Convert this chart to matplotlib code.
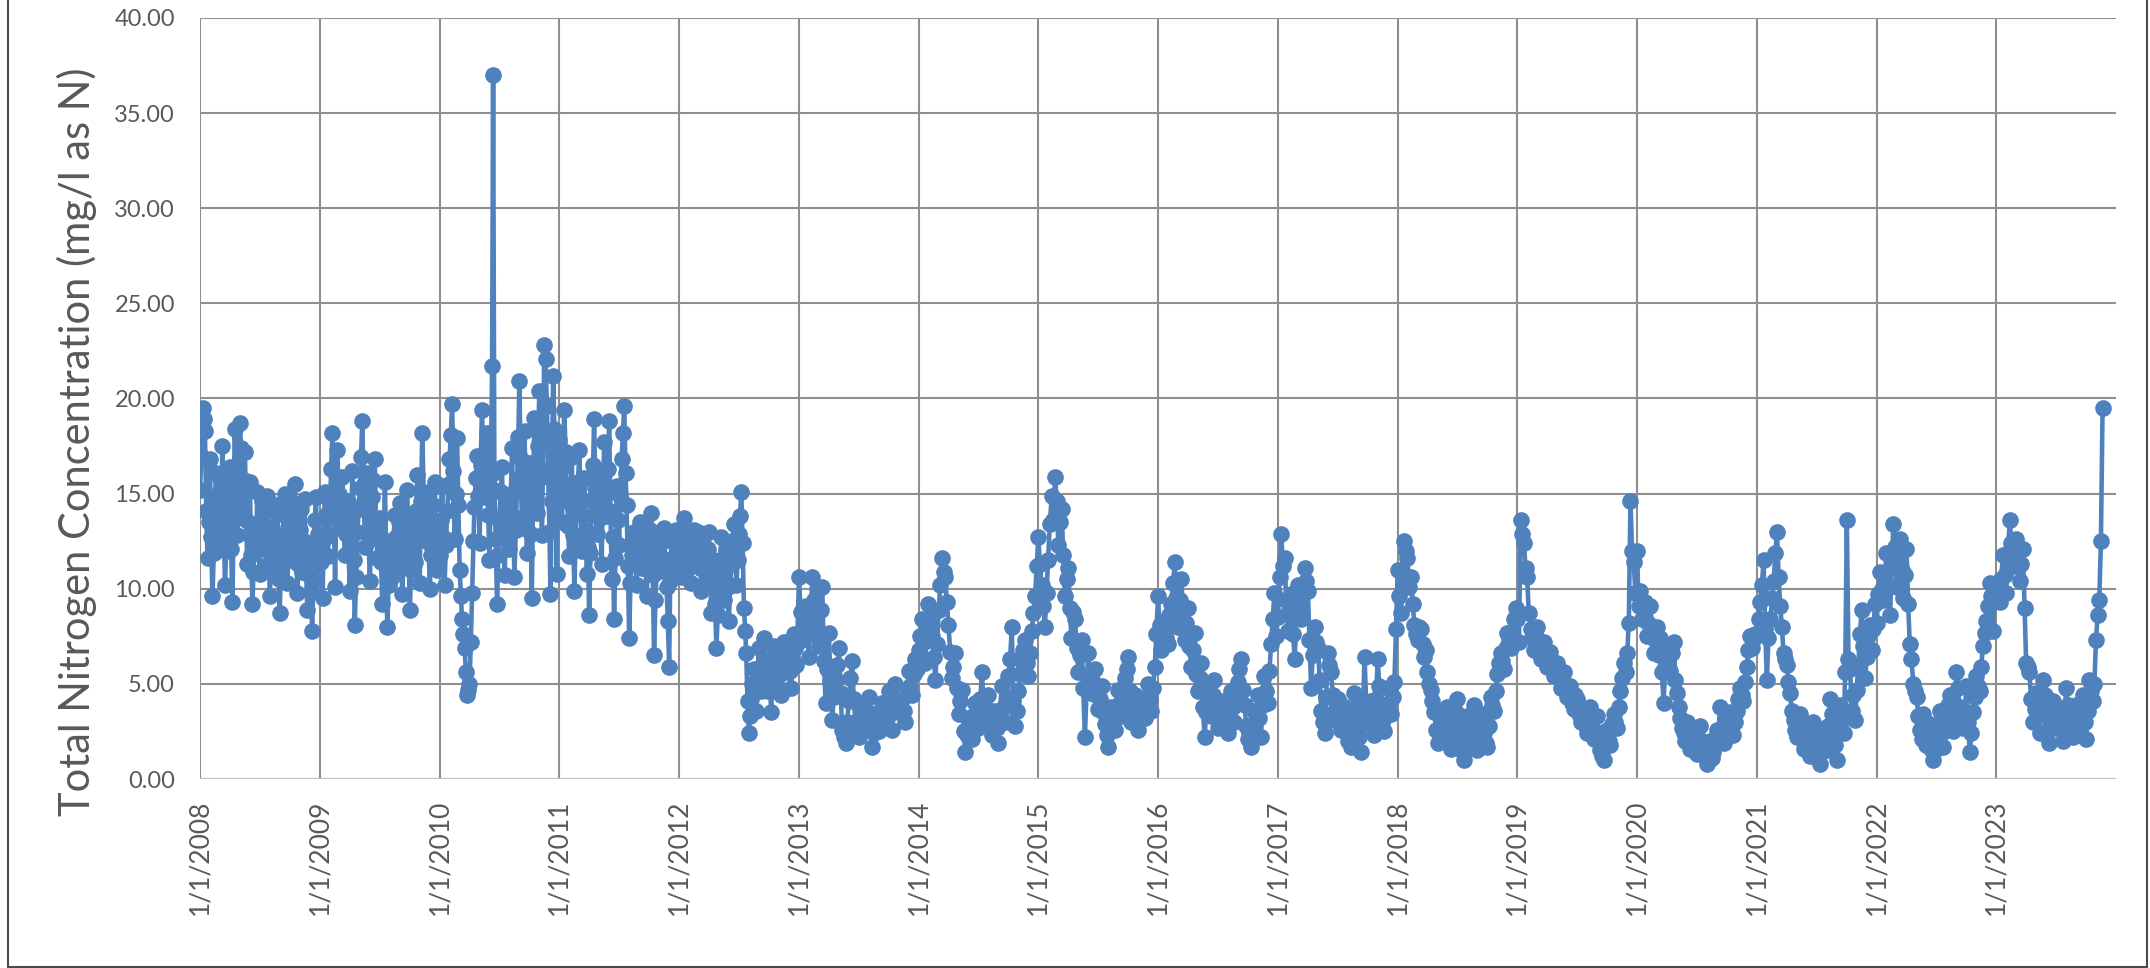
import numpy as np
import matplotlib
matplotlib.use("Agg")
import matplotlib.pyplot as plt
from matplotlib.lines import Line2D

plt.rcParams['font.family'] = ['Lato', 'DejaVu Sans']

BLUE = "#4F81BD"
TEXT = "#595959"

# Total nitrogen (mg/l as N), one list per year, samples spread evenly through the year
tn_2008 = [15.2, 17.0, 19.5, 18.9, 18.3, 14.1, 11.6, 13.5, 16.8, 12.7, 9.6, 11.9,
           14.9, 16.1, 12.4, 14.0, 15.8, 13.2, 17.5, 14.8, 10.2, 12.0, 13.9, 15.3,
           16.4, 12.1, 9.3, 14.5, 18.4, 16.0, 12.8, 15.9, 18.7, 17.4, 14.2, 15.7,
           17.2, 13.6, 11.3, 12.9, 15.6, 11.8, 9.2, 10.9, 13.4, 12.3, 15.1, 13.0,
           10.8, 12.5, 14.6, 13.3, 12.1, 11.2, 14.9, 12.6, 9.6, 11.4, 13.2, 14.1,
           11.0, 12.8, 14.4, 10.5, 8.7, 11.1, 12.6, 13.9, 15.0, 12.2, 10.3, 11.7,
           13.8, 14.6, 11.5, 13.0, 15.5, 12.4, 9.8, 11.3, 13.1, 14.2, 10.9, 12.5,
           14.7, 11.6, 8.9, 10.7, 12.3, 9.9, 7.8, 10.4, 13.6, 14.8, 11.2, 12.9]
tn_2009 = [12.8, 11.4, 9.5, 12.6, 15.1, 13.9, 11.7, 12.8, 14.0, 16.3, 18.2, 14.4,
           10.1, 13.7, 17.3, 15.0, 13.5, 14.7, 15.9, 13.1, 11.8, 12.9, 14.6, 12.0,
           9.9, 13.4, 16.2, 11.5, 8.1, 10.6, 13.0, 14.2, 15.3, 16.9, 18.8, 15.5,
           12.2, 14.3, 16.1, 12.8, 10.4, 12.6, 14.8, 15.7, 16.8, 13.4, 11.6, 12.9,
           13.7, 11.4, 9.2, 12.1, 15.6, 11.8, 8.0, 10.2, 12.5, 11.3, 10.6, 12.4,
           13.9, 12.7, 11.2, 13.5, 14.5, 12.0, 9.7, 11.5, 12.9, 14.0, 15.2, 12.3,
           8.9, 11.0, 13.6, 12.5, 11.4, 14.1, 16.0, 13.2, 10.3, 14.6, 18.2, 15.1,
           12.7, 13.8, 14.9, 12.4, 10.0, 11.8, 13.3, 14.4, 15.6, 13.0, 11.0, 12.6]
tn_2010 = [11.8, 13.6, 15.4, 12.7, 10.2, 12.3, 14.1, 15.5, 16.8, 18.1, 19.7, 16.2,
           12.6, 15.0, 17.9, 14.4, 11.0, 9.6, 8.4, 7.6, 6.9, 5.6, 4.4, 4.7,
           5.0, 7.2, 9.8, 12.5, 14.3, 15.8, 17.0, 14.9, 12.4, 16.5, 19.4, 17.1,
           14.8, 16.6, 18.2, 13.9, 11.5, 16.0, 21.7, 37.0, 15.2, 12.6, 9.2, 11.8,
           13.6, 15.1, 16.4, 13.4, 10.7, 12.8, 14.9, 13.6, 12.1, 15.0, 17.4, 13.8,
           10.6, 13.1, 15.7, 18.0, 20.9, 16.8, 13.2, 15.6, 18.3, 14.9, 11.9, 14.0,
           16.6, 12.9, 9.5, 14.8, 19.0, 16.7, 14.0, 17.5, 20.4, 16.3, 12.8, 17.9,
           22.8, 22.1, 19.6, 15.9, 13.0, 9.7, 14.6, 21.2, 18.4, 15.3, 10.8, 17.6]
tn_2011 = [17.8, 15.6, 13.5, 16.4, 19.4, 17.2, 15.1, 13.3, 11.7, 14.5, 16.9, 12.8,
           9.9, 12.4, 14.2, 15.6, 17.3, 14.7, 12.0, 13.9, 15.8, 13.1, 10.8, 12.2,
           8.6, 11.9, 14.6, 16.5, 18.9, 15.3, 12.9, 14.8, 16.2, 13.7, 11.3, 15.2,
           17.7, 15.0, 13.8, 16.3, 18.8, 14.1, 10.5, 12.7, 8.4, 11.6, 15.4, 13.6,
           12.3, 14.9, 16.8, 18.2, 19.6, 16.1, 14.4, 11.2, 7.4, 10.3, 11.8, 12.5,
           13.0, 11.6, 10.2, 11.9, 12.6, 13.5, 11.1, 12.3, 13.4, 11.8, 9.6, 11.0,
           12.2, 13.1, 14.0, 10.7, 6.5, 9.4, 10.9, 12.1, 12.8, 11.7, 11.4, 12.6,
           13.2, 11.5, 10.1, 8.3, 5.9, 10.4, 12.5, 11.6, 11.0, 12.4, 13.1, 11.9]
tn_2012 = [12.4, 11.5, 10.6, 12.3, 13.7, 12.1, 11.2, 12.5, 12.9, 11.4, 10.3, 12.0,
           13.1, 12.2, 11.7, 13.0, 12.6, 11.1, 9.9, 11.3, 12.2, 11.6, 10.8, 12.1,
           13.0, 10.4, 8.7, 10.9, 11.5, 9.2, 6.9, 8.6, 10.1, 11.4, 12.7, 10.8,
           9.4, 11.0, 12.0, 10.1, 8.3, 10.2, 11.6, 12.5, 13.4, 11.8, 10.2, 11.5,
           12.9, 13.8, 15.1, 12.4, 9.0, 7.8, 6.6, 4.1, 2.4, 3.3, 4.2, 5.0,
           5.8, 4.7, 3.6, 5.2, 6.9, 5.6, 4.6, 6.1, 7.4, 6.3, 5.3, 4.6,
           6.2, 4.9, 3.5, 5.4, 7.0, 6.1, 5.1, 5.9, 6.6, 5.5, 4.4, 6.0,
           7.2, 6.5, 5.6, 6.2, 6.8, 5.7, 4.8, 6.4, 7.6, 6.9, 6.0, 7.4]
tn_2013 = [10.6, 8.8, 7.3, 8.1, 9.1, 7.6, 6.4, 8.7, 10.6, 9.4, 8.2, 7.5,
           7.0, 8.9, 10.1, 6.2, 4.0, 5.8, 7.7, 5.1, 3.1, 4.3, 5.2, 6.0,
           6.9, 4.5, 2.6, 2.2, 1.9, 3.0, 4.1, 5.3, 6.2, 4.2, 3.0, 2.5,
           2.2, 3.1, 3.8, 3.3, 2.7, 3.6, 4.3, 2.9, 1.7, 2.4, 3.4, 2.8,
           2.5, 3.2, 4.0, 3.6, 3.1, 3.9, 4.6, 3.4, 2.6, 3.8, 5.0, 4.1,
           3.5, 3.9, 4.2, 3.6, 3.0, 4.4, 5.7, 4.9, 4.4, 5.5, 6.3, 5.8]
tn_2014 = [6.8, 7.5, 8.4, 7.2, 6.1, 7.9, 9.2, 8.3, 7.5, 6.4, 5.2, 7.1,
           8.9, 10.2, 11.6, 10.9, 10.6, 9.3, 8.1, 6.7, 5.3, 5.9, 6.6, 4.8,
           3.4, 4.1, 4.7, 2.5, 1.4, 2.3, 3.2, 2.6, 2.1, 3.3, 4.0, 3.4,
           2.7, 4.2, 5.6, 3.9, 3.1, 3.7, 4.4, 3.0, 2.3, 2.9, 3.6, 2.7,
           1.9, 3.5, 4.9, 3.8, 3.0, 4.3, 5.4, 6.3, 8.0, 4.1, 2.8, 3.6,
           4.6, 5.5, 6.2, 6.8, 7.3, 6.1, 5.4, 6.6, 7.8, 8.7, 9.6, 11.2]
tn_2015 = [12.7, 11.3, 10.2, 9.1, 8.0, 9.8, 11.5, 13.4, 14.9, 13.6, 15.9, 14.6,
           12.3, 13.5, 14.2, 11.8, 9.6, 10.5, 11.1, 9.0, 7.4, 8.8, 8.4, 6.9,
           5.6, 6.5, 7.3, 4.8, 2.2, 4.6, 6.6, 5.4, 4.5, 5.1, 5.8, 4.4,
           3.7, 4.2, 4.9, 3.5, 2.9, 2.3, 1.7, 2.8, 3.8, 3.1, 2.6, 3.7,
           4.7, 4.0, 3.3, 4.5, 5.3, 5.8, 6.4, 4.6, 3.0, 3.8, 4.4, 3.4,
           2.6, 3.3, 4.1, 3.7, 3.2, 4.3, 5.0, 4.2, 3.6, 4.8, 5.9, 7.6]
tn_2016 = [9.6, 8.1, 6.8, 7.7, 8.3, 7.4, 7.1, 8.6, 9.2, 10.3, 11.4, 9.5,
           8.0, 9.4, 10.5, 8.8, 7.3, 8.2, 9.0, 7.0, 5.9, 6.8, 7.7, 5.5,
           4.6, 5.3, 6.1, 3.8, 2.2, 3.5, 4.8, 3.9, 3.3, 4.4, 5.2, 3.6,
           2.7, 3.4, 4.1, 3.0, 3.5, 2.9, 2.4, 3.7, 4.6, 3.8, 3.0, 4.2,
           5.1, 5.8, 6.3, 4.7, 3.9, 2.8, 2.1, 2.4, 1.7, 2.9, 3.6, 3.1,
           4.4, 3.2, 2.2, 3.9, 5.4, 4.6, 4.0, 5.7, 7.1, 8.4, 9.8, 7.5]
tn_2017 = [8.5, 10.6, 12.9, 11.2, 11.6, 9.4, 7.8, 8.9, 9.7, 7.6, 6.3, 8.5,
           10.2, 9.1, 8.4, 9.8, 11.1, 10.4, 9.9, 7.3, 4.8, 6.5, 8.0, 7.2,
           6.9, 5.2, 3.6, 3.0, 2.4, 4.3, 6.6, 6.0, 5.6, 4.4, 3.1, 3.7,
           4.2, 3.3, 2.6, 3.2, 3.8, 2.9, 2.0, 2.6, 1.7, 3.1, 4.5, 3.8,
           3.2, 2.2, 1.4, 3.5, 6.4, 4.0, 2.9, 3.5, 4.1, 3.0, 2.3, 4.2,
           6.3, 4.9, 3.7, 3.1, 2.5, 3.6, 4.8, 4.0, 3.4, 4.3, 5.1, 7.9]
tn_2018 = [11.0, 9.6, 8.7, 10.8, 12.5, 12.0, 11.6, 10.1, 10.6, 9.2, 8.1, 7.6,
           7.3, 8.0, 7.9, 7.1, 6.4, 6.8, 5.6, 5.0, 4.7, 4.1, 3.5, 2.6,
           1.9, 2.5, 3.0, 2.7, 2.4, 3.2, 3.8, 2.3, 1.6, 2.0, 2.7, 3.5,
           4.2, 2.9, 2.0, 1.4, 1.0, 2.1, 3.3, 2.6, 2.2, 3.0, 3.9, 2.5,
           1.5, 2.2, 3.0, 3.4, 2.4, 1.9, 1.7, 2.8, 4.3, 3.9, 3.6, 4.6,
           5.5, 6.1, 6.6, 6.2, 5.8, 6.9, 7.7, 7.3, 6.9, 7.8, 8.4, 9.0]
tn_2019 = [8.4, 7.2, 13.6, 12.9, 12.4, 11.1, 10.6, 8.7, 7.9, 7.4, 6.8, 7.5,
           8.0, 7.0, 6.3, 6.9, 7.2, 6.5, 5.9, 6.2, 6.7, 5.8, 5.4, 5.9,
           6.1, 5.3, 4.8, 5.1, 5.6, 4.7, 4.3, 4.5, 4.9, 4.0, 3.7, 4.4,
           4.2, 3.4, 3.0, 3.3, 3.6, 2.8, 2.4, 3.0, 3.8, 2.7, 2.1, 2.5,
           3.3, 2.2, 1.5, 1.2, 1.0, 1.9, 2.6, 2.0, 1.8, 2.9, 3.4, 3.0,
           2.7, 3.8, 4.6, 5.3, 6.1, 5.6, 6.6, 8.2, 14.6, 12.0, 11.4, 9.8]
tn_2020 = [12.0, 9.1, 9.9, 8.4, 8.7, 9.3, 7.5, 8.2, 9.1, 7.8, 6.6, 7.3,
           8.0, 6.5, 7.4, 5.6, 4.0, 5.9, 6.9, 6.2, 5.7, 6.6, 7.2, 5.2,
           4.5, 3.8, 3.2, 2.7, 2.4, 2.0, 3.0, 2.3, 1.6, 1.9, 2.2, 1.5,
           1.3, 2.1, 2.8, 1.8, 1.7, 1.2, 0.8, 1.4, 2.0, 1.1, 1.4, 1.9,
           2.6, 2.2, 3.8, 2.5, 1.9, 2.4, 2.9, 3.2, 3.5, 2.8, 2.3, 3.0,
           3.6, 4.2, 4.8, 4.4, 4.1, 5.1, 5.9, 6.8, 7.5, 6.9, 7.3, 7.6]
tn_2021 = [7.6, 8.4, 9.3, 10.2, 11.5, 7.9, 5.2, 7.4, 8.4, 9.5, 10.4, 11.9,
           13.0, 10.6, 9.1, 8.0, 6.6, 6.3, 6.0, 5.1, 4.5, 3.6, 3.1, 2.6,
           2.2, 2.9, 3.4, 2.3, 1.6, 2.0, 2.5, 1.7, 1.2, 2.2, 3.0, 2.4,
           1.9, 1.3, 0.8, 1.6, 2.3, 1.9, 1.5, 2.8, 4.2, 3.4, 2.6, 1.8,
           1.0, 2.5, 3.9, 3.1, 2.4, 5.6, 13.6, 6.3, 5.8, 3.6, 4.4, 3.1,
           4.7, 6.0, 7.6, 8.9, 7.0, 5.3, 6.4, 7.5, 8.1, 6.8, 7.9, 9.2]
tn_2022 = [8.2, 9.7, 10.9, 10.0, 9.4, 10.8, 11.9, 10.2, 8.6, 11.3, 13.4, 12.2,
           10.1, 11.6, 12.6, 11.0, 9.5, 10.7, 12.1, 9.2, 7.1, 6.3, 5.0, 4.6,
           4.3, 3.3, 2.6, 2.1, 3.4, 2.5, 1.8, 2.3, 2.9, 1.6, 1.0, 1.5,
           2.2, 2.8, 3.6, 2.4, 1.7, 2.6, 3.0, 3.9, 4.4, 3.1, 2.5, 3.7,
           5.6, 4.8, 3.8, 3.2, 2.7, 3.6, 4.9, 3.0, 1.4, 2.4, 3.5, 4.3,
           5.4, 4.9, 4.6, 5.9, 7.0, 7.7, 8.3, 9.1, 10.3, 9.6, 7.8, 9.9]
tn_2023 = [10.0, 9.6, 9.3, 10.5, 11.8, 10.7, 9.8, 11.9, 13.6, 12.4, 11.2, 12.0,
           12.6, 11.5, 10.4, 11.3, 12.1, 9.0, 6.1, 5.9, 5.6, 4.2, 3.0, 3.7,
           4.5, 3.4, 2.4, 3.9, 5.2, 4.4, 3.3, 2.6, 1.9, 3.0, 4.1, 3.4,
           2.7, 3.2, 3.6, 2.8, 2.0, 3.5, 4.8, 3.9, 3.1, 2.5, 2.2, 3.0,
           3.9, 3.3, 2.6, 3.5, 4.4, 3.0, 2.1, 3.6, 5.2, 4.6, 4.1, 5.0,
           7.3, 8.6, 9.4, 12.5, 19.5]

# (year, values, samples per year)
series = [
    (2008, tn_2008, 96), (2009, tn_2009, 96), (2010, tn_2010, 96),
    (2011, tn_2011, 96), (2012, tn_2012, 96), (2013, tn_2013, 72),
    (2014, tn_2014, 72), (2015, tn_2015, 72), (2016, tn_2016, 72),
    (2017, tn_2017, 72), (2018, tn_2018, 72), (2019, tn_2019, 72),
    (2020, tn_2020, 72), (2021, tn_2021, 72), (2022, tn_2022, 72),
    (2023, tn_2023, 72),
]

years = list(range(2008, 2024))
y_ticks = list(range(0, 45, 5))

dates, values = [], []
for year, vals, per_year in series:
    offs = np.round(np.arange(len(vals)) * 365 / per_year).astype(int)
    dates.extend(np.datetime64(f"{year}-01-01") + offs.astype("timedelta64[D]"))
    values.extend(vals)
dates = np.array(dates)
values = np.array(values)

W, H = 2150, 968
fig = plt.figure(figsize=(W / 100, H / 100), dpi=100)
ax = fig.add_axes([200 / W, 1 - 779 / H, (2116 - 200) / W, (779 - 18) / H])

ax.plot(dates, values, color=BLUE, lw=3.3, marker="o", ms=12, mew=0, zorder=3)

ax.set_ylim(0, 40)
ax.set_xlim(np.datetime64("2008-01-01"), np.datetime64("2024-01-01"))
ax.set_xticks([np.datetime64(f"{y}-01-01") for y in years])
ax.set_xticklabels([f"1/1/{y}" for y in years], rotation=90, fontsize=19, color=TEXT)
ax.set_yticks(y_ticks)
ax.set_yticklabels([f"{v:.2f}" for v in y_ticks], fontsize=17, color=TEXT)
ax.tick_params(axis="x", length=0, pad=15)
ax.tick_params(axis="y", length=0, pad=18)

ax.grid(True, color="#8f8f8f", lw=1.5)
ax.set_axisbelow(True)
for s in ax.spines.values():
    s.set_visible(False)
ax.axhline(0, color="#c4c4c4", lw=2, zorder=2)

fig.text(77 / W, 1 - 442 / H, "Total Nitrogen Concentration (mg/l as N)",
         rotation=90, ha="center", va="center", fontsize=30, color=TEXT)

# chart frame (top edge falls outside the canvas)
frame = dict(transform=fig.transFigure, color="#4a4a4a", lw=1.5)
fig.add_artist(Line2D([8 / W, 8 / W], [1.01, 1 - 966.5 / H], **frame))
fig.add_artist(Line2D([2147 / W, 2147 / W], [1.01, 1 - 966.5 / H], **frame))
fig.add_artist(Line2D([8 / W, 2147 / W], [1 - 966.5 / H, 1 - 966.5 / H], **frame))

fig.savefig("out.png", dpi=100)
